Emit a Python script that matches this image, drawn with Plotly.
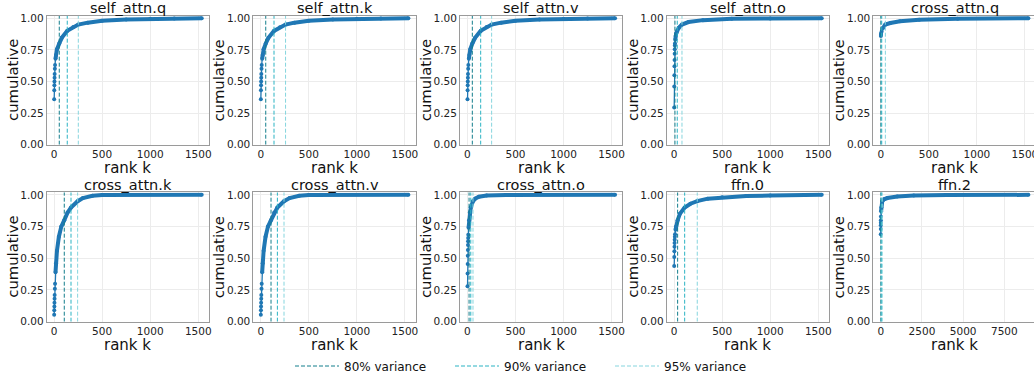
import plotly.graph_objects as go

# ---------------- data ----------------
names = ["self_attn.q", "self_attn.k", "self_attn.v", "self_attn.o", "cross_attn.q",
         "cross_attn.k", "cross_attn.v", "cross_attn.o", "ffn.0", "ffn.2"]

ranks_self_attn_q = [1, 2, 3, 4, 5, 6, 8, 10, 15, 20, 30, 54, 80, 137, 200, 252, 350, 500, 750, 1000, 1250, 1536]
cum_self_attn_q = [0.36, 0.43, 0.47, 0.50, 0.53, 0.56, 0.60, 0.63, 0.68, 0.71, 0.755, 0.80, 0.845, 0.90, 0.93, 0.95, 0.965, 0.98, 0.99, 0.995, 0.998, 1.0]

ranks_self_attn_k = [1, 2, 3, 4, 5, 6, 8, 10, 15, 20, 30, 52, 80, 138, 200, 258, 350, 500, 750, 1000, 1250, 1536]
cum_self_attn_k = [0.36, 0.43, 0.47, 0.50, 0.53, 0.56, 0.60, 0.63, 0.68, 0.71, 0.755, 0.80, 0.845, 0.90, 0.928, 0.95, 0.965, 0.98, 0.99, 0.995, 0.998, 1.0]

ranks_self_attn_v = [1, 2, 3, 4, 5, 6, 8, 10, 15, 20, 30, 51, 80, 138, 200, 252, 350, 500, 750, 1000, 1250, 1536]
cum_self_attn_v = [0.36, 0.43, 0.47, 0.50, 0.53, 0.56, 0.60, 0.63, 0.68, 0.71, 0.755, 0.80, 0.845, 0.90, 0.93, 0.95, 0.965, 0.98, 0.99, 0.995, 0.998, 1.0]

ranks_self_attn_o = [1, 2, 3, 4, 5, 6, 7, 8, 9, 12, 16, 22, 33, 50, 82, 150, 300, 600, 1000, 1536]
cum_self_attn_o = [0.295, 0.46, 0.55, 0.62, 0.67, 0.72, 0.755, 0.785, 0.80, 0.83, 0.86, 0.88, 0.90, 0.925, 0.95, 0.97, 0.985, 0.995, 0.998, 1.0]

ranks_cross_attn_q = [1, 2, 3, 5, 10, 20, 48, 100, 200, 400, 800, 1536]
cum_cross_attn_q = [0.86, 0.87, 0.875, 0.885, 0.90, 0.92, 0.95, 0.962, 0.976, 0.988, 0.996, 1.0]

ranks_cross_attn_k = [1, 2, 3, 4, 5, 6, 8, 10, 15, 20, 30, 50, 75, 106, 140, 176, 245, 300, 400, 500, 1536]
cum_cross_attn_k = [0.055, 0.09, 0.12, 0.15, 0.18, 0.21, 0.26, 0.30, 0.39, 0.46, 0.56, 0.67, 0.75, 0.80, 0.86, 0.90, 0.95, 0.975, 0.993, 0.999, 1.0]

ranks_cross_attn_v = [1, 2, 3, 4, 5, 6, 8, 10, 15, 20, 30, 50, 75, 107, 140, 173, 242, 300, 400, 500, 1536]
cum_cross_attn_v = [0.055, 0.09, 0.12, 0.15, 0.18, 0.21, 0.26, 0.30, 0.39, 0.46, 0.56, 0.67, 0.75, 0.80, 0.86, 0.90, 0.95, 0.975, 0.993, 0.999, 1.0]

ranks_cross_attn_o = [1, 2, 3, 4, 5, 6, 7, 8, 9, 12, 17, 25, 35, 58, 80, 120, 200, 400, 1536]
cum_cross_attn_o = [0.28, 0.38, 0.455, 0.52, 0.565, 0.605, 0.635, 0.66, 0.685, 0.74, 0.80, 0.86, 0.90, 0.95, 0.97, 0.985, 0.995, 0.999, 1.0]

ranks_ffn_0 = [1, 2, 3, 4, 5, 6, 8, 10, 15, 20, 37, 60, 110, 170, 241, 350, 500, 750, 1000, 1536]
cum_ffn_0 = [0.44, 0.51, 0.555, 0.59, 0.62, 0.645, 0.67, 0.69, 0.725, 0.75, 0.80, 0.85, 0.90, 0.93, 0.95, 0.97, 0.98, 0.99, 0.995, 1.0]

ranks_ffn_2 = [1, 2, 3, 4, 6, 10, 20, 35, 90, 200, 400, 1000, 2000, 4000, 8960]
cum_ffn_2 = [0.69, 0.73, 0.76, 0.78, 0.80, 0.83, 0.87, 0.90, 0.95, 0.965, 0.975, 0.987, 0.994, 0.998, 1.0]

all_ranks = [ranks_self_attn_q, ranks_self_attn_k, ranks_self_attn_v, ranks_self_attn_o, ranks_cross_attn_q,
             ranks_cross_attn_k, ranks_cross_attn_v, ranks_cross_attn_o, ranks_ffn_0, ranks_ffn_2]
all_cum = [cum_self_attn_q, cum_self_attn_k, cum_self_attn_v, cum_self_attn_o, cum_cross_attn_q,
           cum_cross_attn_k, cum_cross_attn_v, cum_cross_attn_o, cum_ffn_0, cum_ffn_2]

k80 = [54, 52, 51, 9, 1, 106, 107, 17, 37, 6]
k90 = [137, 138, 138, 33, 10, 176, 173, 35, 110, 35]
k95 = [252, 258, 252, 82, 48, 245, 242, 58, 241, 90]

thresholds = ["80% variance", "90% variance", "95% variance"]
y_ticks = [0.0, 0.25, 0.5, 0.75, 1.0]
x_ticks_small = [0, 500, 1000, 1500]
x_ticks_large = [0, 2500, 5000, 7500]

# ---------------- styling / layout ----------------
W, H = 1034, 381
BLUE = "#1f77b4"
VCOLORS = ["#137e8c", "#2bb3c3", "#86d5de"]
FONT = "DejaVu Sans"
FRAME = "#9a9a9a"
GRID = "#ececec"

col_left = [46.7 + 206.67 * i for i in range(5)]
panel_w = 162.4
row_top = [15.7, 192.3]
row_bot = [144.7, 321.7]
YMAX = 1.02

fig = go.Figure()
annotations = []
layout = dict()

for idx, name in enumerate(names):
    r, c = divmod(idx, 5)
    ax = idx + 1
    xa = "x" if ax == 1 else f"x{ax}"
    ya = "y" if ax == 1 else f"y{ax}"
    ks = all_ranks[idx]
    vs = all_cum[idx]
    n = ks[-1]
    lo = -0.05 * (n - 1)
    hi = n + 0.05 * (n - 1)
    left_px = col_left[c]
    right_px = left_px + panel_w
    scale = panel_w / (hi - lo)
    if right_px > W:
        hi = hi - (right_px - W) / scale
        right_px = W

    # thin line + dots
    fig.add_trace(go.Scatter(x=ks, y=vs, mode="lines+markers", xaxis=xa, yaxis=ya,
                             line=dict(color=BLUE, width=1.3),
                             marker=dict(color=BLUE, size=4), showlegend=False, hoverinfo="skip"))
    # dense region (markers overlapping into a thick band)
    dense_k = [k for k in ks if k >= 12]
    dense_v = [v for k, v in zip(ks, vs) if k >= 12]
    fig.add_trace(go.Scatter(x=dense_k, y=dense_v, mode="lines", xaxis=xa, yaxis=ya,
                             line=dict(color=BLUE, width=4), showlegend=False, hoverinfo="skip"))
    # threshold lines
    for j, kv in enumerate([k80[idx], k90[idx], k95[idx]]):
        fig.add_trace(go.Scatter(x=[kv, kv], y=[0, YMAX], mode="lines", xaxis=xa, yaxis=ya,
                                 line=dict(color=VCOLORS[j], width=1, dash="4px,2px"),
                                 name=thresholds[j], legendgroup=thresholds[j],
                                 showlegend=(idx == 0), hoverinfo="skip"))

    xt = x_ticks_large if n > 2000 else x_ticks_small
    layout["xaxis" if ax == 1 else f"xaxis{ax}"] = dict(
        domain=[left_px / W, right_px / W], anchor=ya, range=[lo, hi], automargin=False,
        tickvals=xt, ticktext=[str(t) for t in xt], ticks="", showline=True, mirror=True,
        linecolor=FRAME, linewidth=1, showgrid=True, gridcolor=GRID, gridwidth=1, zeroline=False,
        ticklabeloverflow="allow",
        tickfont=dict(family=FONT, size=10.5, color="#222"),
    )
    layout["yaxis" if ax == 1 else f"yaxis{ax}"] = dict(
        domain=[1 - row_bot[r] / H, 1 - row_top[r] / H], anchor=xa, range=[0, YMAX], automargin=False,
        tickvals=y_ticks, ticktext=[f"{t:.2f}" for t in y_ticks], ticks="", showline=True, mirror=True,
        linecolor=FRAME, linewidth=1, showgrid=True, gridcolor=GRID, gridwidth=1, zeroline=False,
        ticklabeloverflow="allow",
        tickfont=dict(family=FONT, size=10.5, color="#222"),
    )
    cx = (left_px + left_px + panel_w) / 2
    # subplot title
    annotations.append(dict(text=name, x=cx / W, y=1 - (row_top[r] - 7.6) / H, xref="paper", yref="paper",
                            xanchor="center", yanchor="middle", showarrow=False,
                            font=dict(family=FONT, size=14.5, color="#111")))
    # x label
    annotations.append(dict(text="rank k", x=cx / W, y=1 - (row_bot[r] + 23.5) / H, xref="paper", yref="paper",
                            xanchor="center", yanchor="middle", showarrow=False,
                            font=dict(family=FONT, size=15, color="#111")))
    # y label
    annotations.append(dict(text="cumulative", x=(left_px - 35) / W, y=1 - (row_top[r] + row_bot[r]) / 2 / H,
                            xref="paper", yref="paper", xanchor="center", yanchor="middle", textangle=-90,
                            showarrow=False, font=dict(family=FONT, size=14.8, color="#111")))

fig.update_layout(
    width=W, height=H, margin=dict(l=0, r=0, t=0, b=0, autoexpand=False),
    paper_bgcolor="white", plot_bgcolor="white",
    annotations=annotations, hovermode=False,
    legend=dict(orientation="h", x=290 / W, y=1 - 366 / H, xanchor="left", yanchor="middle",
                font=dict(family=FONT, size=12, color="#111"), entrywidth=101, entrywidthmode="pixels",
                itemwidth=44, bgcolor="rgba(0,0,0,0)"),
    **layout,
)

fig.write_html("out.html", config={"displayModeBar": False},
               post_script="document.body.style.margin='0';document.body.style.overflow='hidden';")
